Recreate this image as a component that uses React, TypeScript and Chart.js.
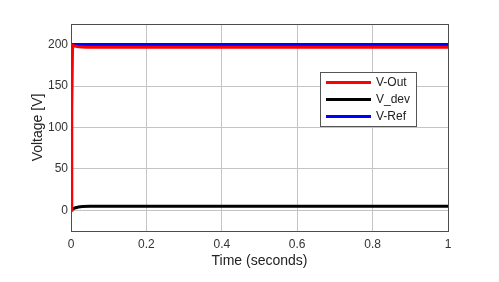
import React, { useEffect, useRef } from "react";
import { Chart, registerables } from "chart.js";

Chart.register(...registerables);

const seriesNames = ["V-Out", "V_dev", "V-Ref"];
const seriesColors = ["#ff0000", "#000000", "#0000ff"];

const tOut = [0, 0.002, 0.004, 0.006, 0.01, 0.02, 0.04, 0.1, 0.5, 1];
const vOut = [0, 120, 195, 199, 198.5, 197.5, 197, 197, 197, 197];

const tDev = [0, 0.005, 0.01, 0.02, 0.03, 0.05, 0.1, 0.5, 1];
const vDev = [0, 1.5, 2.8, 4, 4.6, 5, 5, 5, 5];

const tRef = [0, 1];
const vRef = [200, 200];

const yTicks = [0, 50, 100, 150, 200];
const xTicks = [0, 0.2, 0.4, 0.6, 0.8, 1];

const frame = {
  id: "frame",
  afterDatasetsDraw(chart: any) {
    const { ctx, chartArea } = chart;
    ctx.save();
    ctx.strokeStyle = "#4d4d4d";
    ctx.lineWidth = 1;
    ctx.strokeRect(
      Math.round(chartArea.left) + 0.5,
      Math.round(chartArea.top) + 0.5,
      Math.round(chartArea.right - chartArea.left),
      Math.round(chartArea.bottom - chartArea.top)
    );
    const bx = chartArea.left + 249;
    const by = chartArea.top + 48;
    const bw = 96;
    const bh = 54;
    ctx.fillStyle = "#ffffff";
    ctx.fillRect(bx, by, bw, bh);
    ctx.strokeStyle = "#555555";
    ctx.strokeRect(Math.round(bx) + 0.5, Math.round(by) + 0.5, bw, bh);
    ctx.font = "12px 'Liberation Sans', Arial, sans-serif";
    ctx.textBaseline = "middle";
    seriesNames.forEach((name, i) => {
      const y = by + 10.5 + i * 17;
      ctx.strokeStyle = seriesColors[i];
      ctx.lineWidth = 3;
      ctx.beginPath();
      ctx.moveTo(bx + 6, y);
      ctx.lineTo(bx + 51, y);
      ctx.stroke();
      ctx.fillStyle = "#222222";
      ctx.fillText(name, bx + 56, y + 0.5);
    });
    ctx.restore();
  },
};

export default function App() {
  const ref = useRef<HTMLCanvasElement>(null);
  useEffect(() => {
    document.body.style.margin = "0";
    const toPts = (t: number[], v: number[]) => t.map((x, i) => ({ x, y: v[i] }));
    const chart = new Chart(ref.current!, {
      type: "line",
      data: {
        datasets: [
          { label: seriesNames[0], data: toPts(tOut, vOut), borderColor: seriesColors[0], borderWidth: 3, pointRadius: 0, tension: 0 },
          { label: seriesNames[1], data: toPts(tDev, vDev), borderColor: seriesColors[1], borderWidth: 3, pointRadius: 0, tension: 0 },
          { label: seriesNames[2], data: toPts(tRef, vRef), borderColor: seriesColors[2], borderWidth: 3.5, pointRadius: 0, tension: 0 },
        ],
      },
      options: {
        animation: false,
        responsive: false,
        maintainAspectRatio: false,
        layout: { padding: { left: 0, right: 51, top: 24, bottom: 0 } },
        plugins: { legend: { display: false }, tooltip: { enabled: false } },
        scales: {
          x: {
            type: "linear",
            min: 0,
            max: 1,
            afterBuildTicks: (s: any) => { s.ticks = xTicks.map((v) => ({ value: v })); },
            afterFit: (s: any) => { s.height = 51; },
            grid: { color: "#c4c4c4", drawTicks: false },
            border: { display: false },
            ticks: {
              padding: 6,
              color: "#333333",
              font: { family: "'Liberation Sans', Arial, sans-serif", size: 12 },
              callback: (v: any) => String(Math.round(Number(v) * 10) / 10),
              maxRotation: 0,
            },
            title: {
              display: true,
              text: "Time (seconds)",
              color: "#222222",
              font: { family: "'Liberation Sans', Arial, sans-serif", size: 14 },
              padding: { top: 1, bottom: 12 },
            },
          },
          y: {
            type: "linear",
            min: -25,
            max: 225,
            afterBuildTicks: (s: any) => { s.ticks = yTicks.map((v) => ({ value: v })); },
            afterFit: (s: any) => { s.width = 71; },
            grid: { color: "#c4c4c4", drawTicks: false },
            border: { display: false },
            ticks: {
              padding: 3,
              color: "#333333",
              font: { family: "'Liberation Sans', Arial, sans-serif", size: 12 },
            },
            title: {
              display: true,
              text: "Voltage [V]",
              color: "#222222",
              font: { family: "'Liberation Sans', Arial, sans-serif", size: 14 },
              padding: { top: 30, bottom: 0 },
            },
          },
        },
      },
      plugins: [frame],
    });
    return () => chart.destroy();
  }, []);
  return (
    <div style={{ position: "absolute", left: 0, top: 0, width: 499, height: 282, background: "#fff" }}>
      <canvas ref={ref} width={499} height={282} style={{ width: 499, height: 282 }} />
    </div>
  );
}
